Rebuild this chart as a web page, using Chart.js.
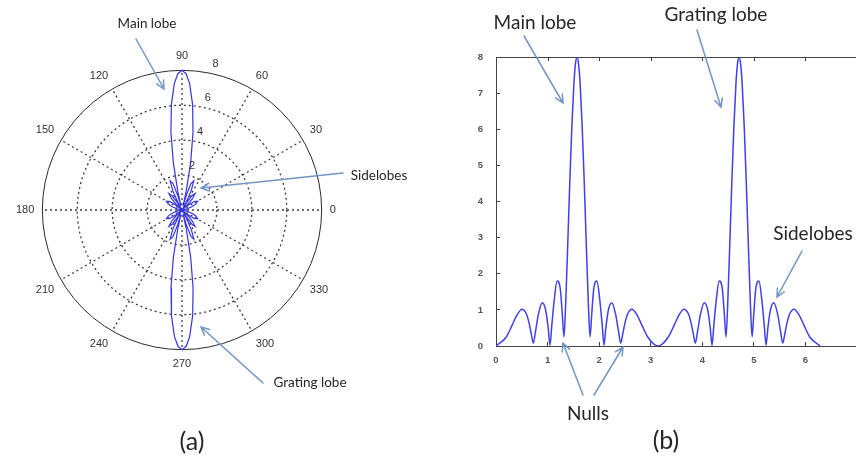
<!DOCTYPE html>
<html><head><meta charset="utf-8">
<script src="https://cdn.jsdelivr.net/npm/chart.js@4"></script>
<style>
html,body{margin:0;padding:0;width:856px;height:459px;overflow:hidden;background:#fff;}
#wrapA{position:absolute;left:0;top:0;width:430px;height:459px;}
#wrapB{position:absolute;left:430px;top:0;width:440px;height:459px;}
#ann{position:absolute;left:0;top:0;}
#ann text{font-family:Lato,"Open Sans",sans-serif;fill:#262626;}
</style></head><body>
<div id="wrapA"><canvas id="polar" width="430" height="459"></canvas></div>
<div id="wrapB"><canvas id="cart" width="440" height="459"></canvas></div>
<svg id="ann" width="856" height="459" xmlns="http://www.w3.org/2000/svg"></svg>
<script>
// ---- data (angle in radians, array-factor magnitude) ----
const thetaRad = [0, 0.200, 0.318, 0.403, 0.505, 0.592, 0.644, 0.685, 0.723, 0.767, 0.823, 0.896, 0.964, 1.012, 1.047, 1.081, 1.126, 1.186, 1.245, 1.287, 1.318, 1.349, 1.390, 1.430, 1.471, 1.511, 1.541, 1.571,
  1.601, 1.631, 1.671, 1.712, 1.752, 1.793, 1.824, 1.855, 1.897, 1.956, 2.016, 2.061, 2.095, 2.130, 2.178, 2.246, 2.319, 2.375, 2.419, 2.457, 2.498, 2.550, 2.637, 2.739, 2.824, 2.942, 3.142,
  3.342, 3.460, 3.545, 3.647, 3.734, 3.786, 3.827, 3.865, 3.909, 3.965, 4.038, 4.106, 4.154, 4.189, 4.223, 4.268, 4.328, 4.387, 4.429, 4.460, 4.491, 4.532, 4.572, 4.613, 4.653, 4.683, 4.712,
  4.743, 4.773, 4.813, 4.854, 4.894, 4.935, 4.966, 4.997, 5.039, 5.098, 5.158, 5.203, 5.237, 5.272, 5.320, 5.388, 5.461, 5.517, 5.561, 5.599, 5.640, 5.692, 5.779, 5.881, 5.966, 6.084, 6.283];
const arrayFactor = [0, 0.25, 0.59, 0.85, 1.02, 0.88, 0.62, 0.33, 0.08, 0.41, 0.88, 1.20, 0.99, 0.50, 0.02, 0.55, 1.23, 1.80, 1.60, 0.86, 0.25, 1.09, 2.76, 4.50, 6.08, 7.27, 7.81, 8.00,
  7.81, 7.27, 6.08, 4.50, 2.76, 1.09, 0.25, 0.86, 1.60, 1.80, 1.23, 0.55, 0.02, 0.50, 0.99, 1.20, 0.88, 0.41, 0.08, 0.33, 0.62, 0.88, 1.02, 0.85, 0.59, 0.25, 0,
  0.25, 0.59, 0.85, 1.02, 0.88, 0.62, 0.33, 0.08, 0.41, 0.88, 1.20, 0.99, 0.50, 0.02, 0.55, 1.23, 1.80, 1.60, 0.86, 0.25, 1.09, 2.76, 4.50, 6.08, 7.27, 7.81, 8.00,
  7.81, 7.27, 6.08, 4.50, 2.76, 1.09, 0.25, 0.86, 1.60, 1.80, 1.23, 0.55, 0.02, 0.50, 0.99, 1.20, 0.88, 0.41, 0.08, 0.33, 0.62, 0.88, 1.02, 0.85, 0.59, 0.25, 0];
const polarAngleLabels = ['90', '60', '30', '0', '330', '300', '270', '240', '210', '180', '150', '120'];
const radialTickValues = [2, 4, 6, 8];
const rMax = 8;
const xTickMax = 7;
const xLastShownTick = 6;
const yTickMax = 8;

// ---- annotations ----
const annTexts = [
  {t:'Main lobe', x:147, y:23, s:13.5},
  {t:'Sidelobes', x:379, y:175, s:13.5},
  {t:'Grating lobe', x:310, y:382, s:13.5},
  {t:'Main lobe', x:535, y:21, s:19},
  {t:'Grating lobe', x:716, y:13, s:19},
  {t:'Sidelobes', x:813, y:232, s:19},
  {t:'Nulls', x:588, y:412, s:19},
  {t:'(a)', x:192, y:440, s:25},
  {t:'(b)', x:666, y:439, s:25}
];
const annArrows = [
  [136,39,164,89],[343,173,201,188],[263,383,201,327],
  [524,36,563,103],[697,30,721,107],[802,251,777,297],
  [583,395,563,343],[594,395,623,347]
];

Chart.defaults.font.family = '"Liberation Sans", Arial, sans-serif';

// ---- polar chart ----
const radialTickPlugin = {
  id:'radialTicks',
  afterDraw(chart){
    const r = chart.scales.r, ctx = chart.ctx;
    ctx.save();
    ctx.font = '11px "Liberation Sans", Arial, sans-serif';
    ctx.fillStyle = '#333';
    ctx.textAlign = 'center';
    ctx.textBaseline = 'middle';
    const ang = 77 * Math.PI / 180;
    radialTickValues.forEach(v => {
      const d = r.getDistanceFromCenterForValue(v) + 10;
      ctx.fillText(String(v), r.xCenter + d * Math.cos(ang), r.yCenter - d * Math.sin(ang));
    });
    ctx.restore();
  }
};
const polar = new Chart(document.getElementById('polar'), {
  type:'scatter',
  data:{
    labels: polarAngleLabels,
    datasets:[{
      data: thetaRad.map((t,i) => ({x: arrayFactor[i]*Math.cos(t), y: arrayFactor[i]*Math.sin(t)})),
      showLine:true, borderColor:'#3535e8', borderWidth:1.2, pointRadius:0, tension:0
    }]
  },
  options:{
    responsive:false, animation:false, devicePixelRatio:1,
    layout:{padding:{left:10, top:44, right:87, bottom:82}},
    plugins:{legend:{display:false}, tooltip:{enabled:false}},
    scales:{
      x:{type:'linear', display:false, min:-rMax, max:rMax},
      y:{type:'linear', display:false, min:-rMax, max:rMax},
      r:{
        type:'radialLinear', labels: polarAngleLabels, min:0, max:rMax, startAngle:0,
        ticks:{display:false, stepSize:2},
        grid:{circular:true,
          lineWidth: c => (c.tick && c.tick.value === rMax) ? 1 : 1.3,
          color: c => (c.tick && c.tick.value === rMax) ? '#2a2a2a' : '#3c3c3c',
          borderDash: c => (c.tick && c.tick.value === rMax) ? [] : [2,3]},
        border:{dash: c => (c.tick && c.tick.value === rMax) ? [] : [2,3]},
        angleLines:{display:true, color:'#3c3c3c', lineWidth:1.3, borderDash:[2,3]},
        pointLabels:{display:true, padding:8, color:'#333', font:{size:11}}
      }
    }
  },
  plugins:[radialTickPlugin]
});
(function alignPolar(ch){
  const r = ch.scales.r, a = ch.chartArea, k = rMax / r.drawingArea;
  ch.options.scales.x.min = (a.left - r.xCenter) * k;
  ch.options.scales.x.max = (a.right - r.xCenter) * k;
  ch.options.scales.y.max = (r.yCenter - a.top) * k;
  ch.options.scales.y.min = (r.yCenter - a.bottom) * k;
  ch.update('none');
})(polar);

// ---- cartesian chart ----
const frameTopPlugin = {
  id:'frameTop',
  afterDraw(chart){
    const {ctx, chartArea:a, scales:{x}} = chart;
    ctx.save();
    ctx.strokeStyle = '#444'; ctx.lineWidth = 1;
    ctx.beginPath();
    ctx.moveTo(a.left, Math.round(a.top)+0.5); ctx.lineTo(a.right, Math.round(a.top)+0.5);
    ctx.moveTo(Math.round(a.right)-0.5, a.top); ctx.lineTo(Math.round(a.right)-0.5, a.bottom);
    x.ticks.forEach(t => {
      const px = Math.round(x.getPixelForValue(t.value)) + 0.5;
      ctx.moveTo(px, a.top); ctx.lineTo(px, a.top + 4);
    });
    ctx.stroke();
    ctx.restore();
  }
};
const tickFont = {size:9.5, weight:'bold'};
new Chart(document.getElementById('cart'), {
  type:'line',
  data:{datasets:[{
    data: thetaRad.map((t,i) => ({x:t, y:arrayFactor[i]})),
    borderColor:'#4040ec', borderWidth:1.5, pointRadius:0, cubicInterpolationMode:'monotone', fill:false
  }]},
  options:{
    responsive:false, animation:false, devicePixelRatio:1,
    layout:{padding:{left:36, top:57, right:10, bottom:88}},
    plugins:{legend:{display:false}, tooltip:{enabled:false}},
    scales:{
      x:{type:'linear', min:0, max:xTickMax, afterFit: s => { s.height = 25; },
         ticks:{stepSize:1, padding:13, color:'#555', font:tickFont, maxRotation:0,
                callback: v => (v <= xLastShownTick ? String(v) : '')},
         grid:{drawOnChartArea:false, tickLength:-4, color:'#444'},
         border:{color:'#444', width:1}},
      y:{type:'linear', min:0, max:yTickMax, afterFit: s => { s.width = 30; },
         ticks:{stepSize:1, padding:17, color:'#555', font:tickFont},
         grid:{drawOnChartArea:false, tickLength:-4, color:'#444'},
         border:{color:'#444', width:1}}
    }
  },
  plugins:[frameTopPlugin]
});

// ---- annotation overlay (text + arrows) ----
(function(){
  const svg = document.getElementById('ann'), NS = 'http://www.w3.org/2000/svg';
  annTexts.forEach(a => {
    const el = document.createElementNS(NS,'text');
    el.setAttribute('x', a.x); el.setAttribute('y', a.y);
    el.setAttribute('text-anchor','middle'); el.setAttribute('dominant-baseline','central');
    el.setAttribute('font-size', a.s);
    el.textContent = a.t;
    svg.appendChild(el);
  });
  annArrows.forEach(([x1,y1,x2,y2]) => {
    const ang = Math.atan2(y2-y1, x2-x1), L = 9, w = 0.45;
    const p = document.createElementNS(NS,'path');
    const hx1 = x2 - L*Math.cos(ang - w), hy1 = y2 - L*Math.sin(ang - w);
    const hx2 = x2 - L*Math.cos(ang + w), hy2 = y2 - L*Math.sin(ang + w);
    p.setAttribute('d', `M${x1},${y1} L${x2},${y2} M${hx1},${hy1} L${x2},${y2} L${hx2},${hy2}`);
    p.setAttribute('stroke','#7396c4'); p.setAttribute('stroke-width','1.5');
    p.setAttribute('fill','none'); p.setAttribute('stroke-linecap','round');
    svg.appendChild(p);
  });
})();
</script>
</body></html>
